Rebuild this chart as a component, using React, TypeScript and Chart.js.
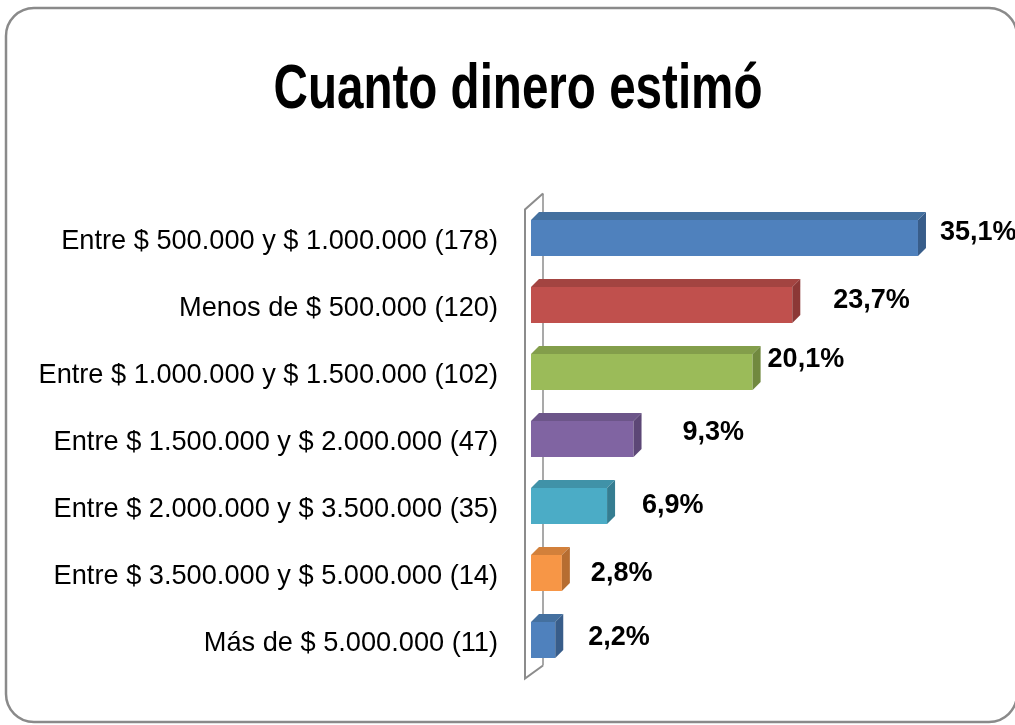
import React, { useEffect, useRef } from "react";
import { Chart, registerables } from "chart.js";

Chart.register(...registerables);

const categories = [
  "Entre $ 500.000 y $ 1.000.000 (178)",
  "Menos de $ 500.000 (120)",
  "Entre $ 1.000.000 y $ 1.500.000 (102)",
  "Entre $ 1.500.000 y $ 2.000.000 (47)",
  "Entre $ 2.000.000 y $ 3.500.000 (35)",
  "Entre $ 3.500.000 y $ 5.000.000 (14)",
  "Más de $ 5.000.000 (11)",
];
const percentages = [35.1, 23.7, 20.1, 9.3, 6.9, 2.8, 2.2];
const valueLabels = ["35,1%", "23,7%", "20,1%", "9,3%", "6,9%", "2,8%", "2,2%"];
const titleText = "Cuanto dinero estimó";

// styles
const frontColors = ["#4F81BD", "#C0504D", "#9BBB59", "#8064A2", "#4BACC6", "#F79646", "#4F81BD"];
const topColors = ["#44709F", "#A34441", "#839E4B", "#6C5589", "#4092A8", "#D2803B", "#44709F"];
const sideColors = ["#385D8A", "#8C3836", "#71893F", "#5C4776", "#357D91", "#B66D31", "#385D8A"];
const labelNudgeX = [22, 41, 15, 49, 35, 29, 33];
const labelNudgeY = [-5, -4, -12, -6, 0, 1, -2];
const DEPTH_X = 8;
const DEPTH_Y = -8;
const TITLE_FONT = "bold 63px 'Liberation Sans', Arial, sans-serif";
const TITLE_SCALE_X = 0.755;
const TITLE_CENTER_X = 518;
const TITLE_BASELINE = 108;

const W = 1015;
const H = 725;

const bar3dPlugin = {
  id: "bar3d",
  beforeDraw(chart: any) {
    const ctx = chart.ctx;
    ctx.save();
    ctx.fillStyle = "#ffffff";
    ctx.fillRect(0, 0, W, H);
    ctx.strokeStyle = "#8a8a8a";
    ctx.lineWidth = 2.5;
    ctx.beginPath();
    (ctx as any).roundRect(6, 8, 1011, 714, 28);
    ctx.stroke();
    // title (horizontally condensed like the original narrow face)
    ctx.translate(TITLE_CENTER_X, TITLE_BASELINE);
    ctx.scale(TITLE_SCALE_X, 1);
    ctx.fillStyle = "#000000";
    ctx.font = TITLE_FONT;
    ctx.textAlign = "center";
    ctx.textBaseline = "alphabetic";
    ctx.fillText(titleText, 0, 0);
    ctx.restore();
  },
  beforeDatasetsDraw(chart: any) {
    const ctx = chart.ctx;
    const a = chart.chartArea;
    const fx = a.left - 6;
    const bx = a.left + 12;
    ctx.save();
    ctx.strokeStyle = "#8c8c8c";
    ctx.lineWidth = 1.5;
    ctx.beginPath();
    ctx.moveTo(bx, a.top - 11);
    ctx.lineTo(bx, a.bottom - 8);
    ctx.stroke();
    ctx.lineWidth = 2;
    ctx.beginPath();
    ctx.moveTo(bx, a.top - 11);
    ctx.lineTo(fx, a.top + 5);
    ctx.lineTo(fx, a.bottom + 5);
    ctx.lineTo(bx, a.bottom - 8);
    ctx.stroke();
    ctx.restore();
  },
  afterDatasetsDraw(chart: any) {
    const ctx = chart.ctx;
    const meta = chart.getDatasetMeta(0);
    ctx.save();
    meta.data.forEach((el: any, i: number) => {
      const { x, y, base, height } = el.getProps(["x", "y", "base", "height"], true);
      const top = y - height / 2;
      const bottom = y + height / 2;
      ctx.fillStyle = topColors[i];
      ctx.beginPath();
      ctx.moveTo(base, top);
      ctx.lineTo(base + DEPTH_X, top + DEPTH_Y);
      ctx.lineTo(x + DEPTH_X, top + DEPTH_Y);
      ctx.lineTo(x, top);
      ctx.closePath();
      ctx.fill();
      ctx.fillStyle = sideColors[i];
      ctx.beginPath();
      ctx.moveTo(x, top);
      ctx.lineTo(x + DEPTH_X, top + DEPTH_Y);
      ctx.lineTo(x + DEPTH_X, bottom + DEPTH_Y);
      ctx.lineTo(x, bottom);
      ctx.closePath();
      ctx.fill();
      ctx.fillStyle = "#000000";
      ctx.font = "bold 27px 'Liberation Sans', Arial, sans-serif";
      ctx.textAlign = "left";
      ctx.textBaseline = "middle";
      ctx.fillText(valueLabels[i], x + labelNudgeX[i], y + labelNudgeY[i]);
    });
    ctx.restore();
  },
};

export default function App() {
  const ref = useRef<HTMLCanvasElement | null>(null);
  useEffect(() => {
    document.body.style.margin = "0";
    const canvas = ref.current;
    if (!canvas) return;
    const chart = new Chart(canvas, {
      type: "bar",
      data: {
        labels: categories,
        datasets: [
          {
            label: titleText,
            data: percentages,
            backgroundColor: frontColors,
            borderWidth: 0,
            categoryPercentage: 1,
            barPercentage: 0.54,
          },
        ],
      },
      options: {
        indexAxis: "y",
        responsive: false,
        animation: false,
        layout: { padding: { left: 31, right: 0, top: 204.5, bottom: 51.5 } },
        plugins: {
          legend: { display: false },
          tooltip: { enabled: false },
          title: { display: false },
        },
        scales: {
          x: {
            display: false,
            min: 0,
            max: 43.9,
          },
          y: {
            afterFit: (s: any) => {
              s.width = 500;
            },
            grid: { display: false, drawTicks: false },
            border: { display: false },
            ticks: {
              color: "#000000",
              padding: 33,
              labelOffset: 4,
              font: { family: "'Liberation Sans', Arial, sans-serif", size: 27.2 },
            },
          },
        },
      },
      plugins: [bar3dPlugin],
    });
    return () => chart.destroy();
  }, []);
  return (
    <div style={{ width: W, height: H }}>
      <canvas ref={ref} width={W} height={H} style={{ display: "block" }} />
    </div>
  );
}
